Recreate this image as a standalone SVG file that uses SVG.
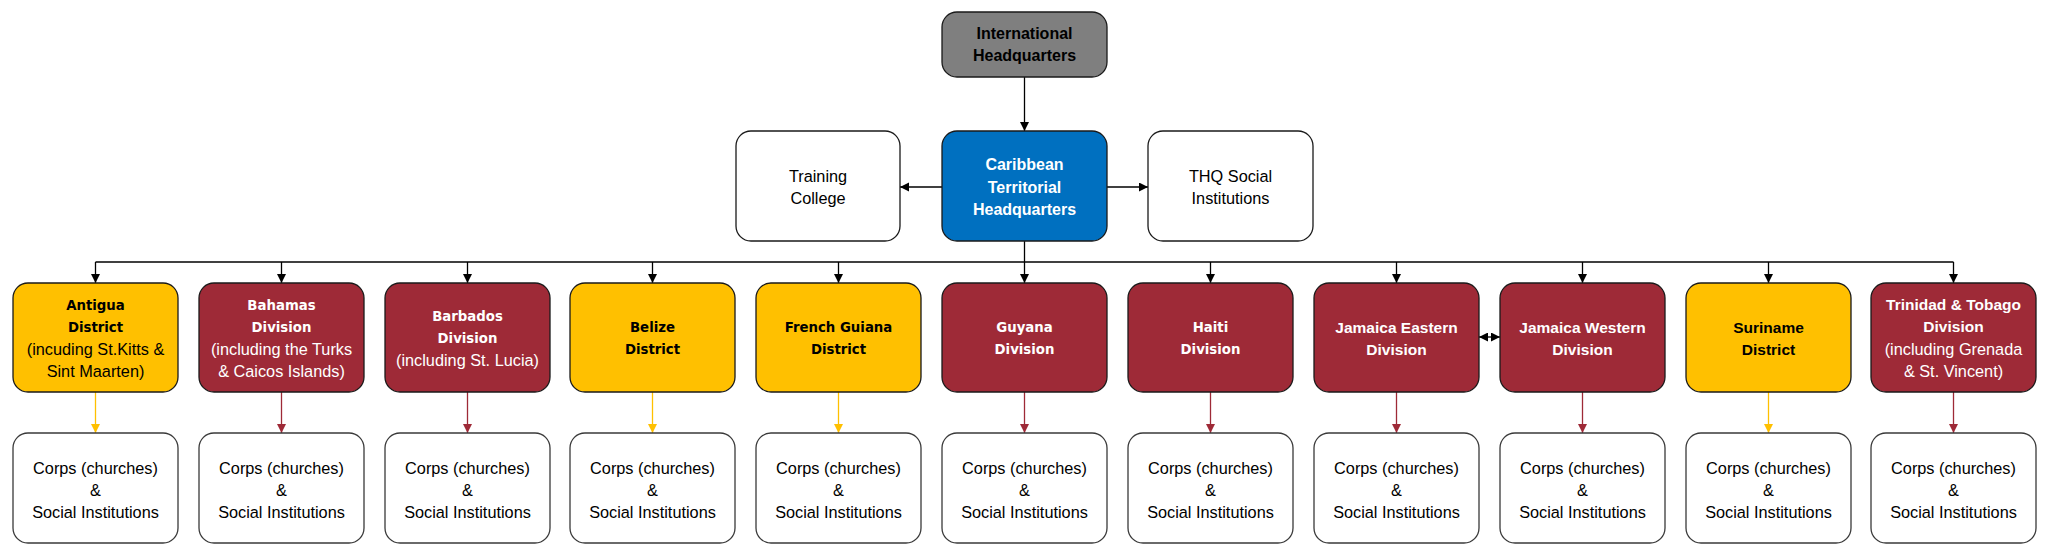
<svg xmlns="http://www.w3.org/2000/svg" width="2052" height="558" viewBox="0 0 2052 558">
<style>
text{font-family:"Liberation Sans",Arial,sans-serif;font-size:16.3px;text-anchor:middle}
.b{font-weight:bold;font-size:15.5px}
.v{font-family:"DejaVu Sans",Verdana,sans-serif;font-weight:bold;font-size:13.3px}
.w{fill:#fff}
.k{fill:#000}
.div{fill:#9e2a37;stroke:#1a1a1a;stroke-width:1.3}
.dis{fill:#ffc000;stroke:#1a1a1a;stroke-width:1.3}
.corps{fill:#fff;stroke:#3a3a3a;stroke-width:1.3}
.wh{fill:#fff;stroke:#1a1a1a;stroke-width:1.3}
.c{fill:none;stroke:#000;stroke-width:1.3}
.cr{fill:none;stroke:#9e2a37;stroke-width:1.3}
.cy{fill:none;stroke:#ffc000;stroke-width:1.3}
</style>
<defs>
<marker id="a" markerUnits="userSpaceOnUse" markerWidth="10" markerHeight="10" refX="9" refY="4.5" orient="auto"><path d="M0,0 L9,4.5 L0,9 z" fill="#000"/></marker>
<marker id="as" markerUnits="userSpaceOnUse" markerWidth="10" markerHeight="10" refX="0" refY="4.5" orient="auto"><path d="M9,0 L0,4.5 L9,9 z" fill="#000"/></marker>
<marker id="ar" markerUnits="userSpaceOnUse" markerWidth="10" markerHeight="10" refX="9" refY="4.5" orient="auto"><path d="M0,0 L9,4.5 L0,9 z" fill="#9e2a37"/></marker>
<marker id="ay" markerUnits="userSpaceOnUse" markerWidth="10" markerHeight="10" refX="9" refY="4.5" orient="auto"><path d="M0,0 L9,4.5 L0,9 z" fill="#ffc000"/></marker>
</defs>

<g id="connectors">
<path class="c" d="M1024.5,77 V131" marker-end="url(#a)"/>
<path class="c" d="M942,187 H900" marker-end="url(#a)"/>
<path class="c" d="M1107,187 H1148" marker-end="url(#a)"/>
<path class="c" d="M1024.5,241 V262"/>
<path class="c" d="M95.5,262 H1953.5"/>
<path class="c" d="M95.5,262 V283" marker-end="url(#a)"/>
<path class="c" d="M281.5,262 V283" marker-end="url(#a)"/>
<path class="c" d="M467.5,262 V283" marker-end="url(#a)"/>
<path class="c" d="M652.5,262 V283" marker-end="url(#a)"/>
<path class="c" d="M838.5,262 V283" marker-end="url(#a)"/>
<path class="c" d="M1024.5,262 V283" marker-end="url(#a)"/>
<path class="c" d="M1210.5,262 V283" marker-end="url(#a)"/>
<path class="c" d="M1396.5,262 V283" marker-end="url(#a)"/>
<path class="c" d="M1582.5,262 V283" marker-end="url(#a)"/>
<path class="c" d="M1768.5,262 V283" marker-end="url(#a)"/>
<path class="c" d="M1953.5,262 V283" marker-end="url(#a)"/>
<path class="c" d="M1479,337 H1500" marker-start="url(#as)" marker-end="url(#a)"/>
<path class="cy" d="M95.5,392 V433" marker-end="url(#ay)"/>
<path class="cr" d="M281.5,392 V433" marker-end="url(#ar)"/>
<path class="cr" d="M467.5,392 V433" marker-end="url(#ar)"/>
<path class="cy" d="M652.5,392 V433" marker-end="url(#ay)"/>
<path class="cy" d="M838.5,392 V433" marker-end="url(#ay)"/>
<path class="cr" d="M1024.5,392 V433" marker-end="url(#ar)"/>
<path class="cr" d="M1210.5,392 V433" marker-end="url(#ar)"/>
<path class="cr" d="M1396.5,392 V433" marker-end="url(#ar)"/>
<path class="cr" d="M1582.5,392 V433" marker-end="url(#ar)"/>
<path class="cy" d="M1768.5,392 V433" marker-end="url(#ay)"/>
<path class="cr" d="M1953.5,392 V433" marker-end="url(#ar)"/>
</g>

<g id="ihq">
<rect x="942" y="12" width="165" height="65" rx="15" fill="#7f7f7f" stroke="#1a1a1a" stroke-width="1.3"/>
<text class="b k" x="1024.5" y="39" style="font-size:16px">International</text>
<text class="b k" x="1024.5" y="61" style="font-size:16px">Headquarters</text>
</g>
<g id="cthq">
<rect x="942" y="131" width="165" height="110" rx="15" fill="#0070c0" stroke="#1a1a1a" stroke-width="1.3"/>
<text class="b w" x="1024.5" y="170" style="font-size:16px">Caribbean</text>
<text class="b w" x="1024.5" y="192.5" style="font-size:16px">Territorial</text>
<text class="b w" x="1024.5" y="215" style="font-size:16px">Headquarters</text>
</g>
<g id="training">
<rect class="wh" x="736" y="131" width="164" height="110" rx="15"/>
<text x="818" y="181.5">Training</text>
<text x="818" y="203.5">College</text>
</g>
<g id="thqsocial">
<rect class="wh" x="1148" y="131" width="165" height="110" rx="15"/>
<text x="1230.5" y="181.5">THQ Social</text>
<text x="1230.5" y="203.5">Institutions</text>
</g>

<g id="antigua">
<rect class="dis" x="13" y="283" width="165" height="109" rx="15"/>
<text class="v k" x="95.5" y="310">Antigua</text>
<text class="v k" x="95.5" y="332">District</text>
<text class="k" x="95.5" y="354.5">(incuding St.Kitts &amp;</text>
<text class="k" x="95.5" y="376.5">Sint Maarten)</text>
</g>
<g id="bahamas">
<rect class="div" x="199" y="283" width="165" height="109" rx="15"/>
<text class="v w" x="281.5" y="310">Bahamas</text>
<text class="v w" x="281.5" y="332">Division</text>
<text class="w" x="281.5" y="354.5">(including the Turks</text>
<text class="w" x="281.5" y="376.5">&amp; Caicos Islands)</text>
</g>
<g id="barbados">
<rect class="div" x="385" y="283" width="165" height="109" rx="15"/>
<text class="v w" x="467.5" y="321">Barbados</text>
<text class="v w" x="467.5" y="343">Division</text>
<text class="w" x="467.5" y="365.5">(including St. Lucia)</text>
</g>
<g id="belize">
<rect class="dis" x="570" y="283" width="165" height="109" rx="15"/>
<text class="v k" x="652.5" y="332">Belize</text>
<text class="v k" x="652.5" y="354">District</text>
</g>
<g id="frenchguiana">
<rect class="dis" x="756" y="283" width="165" height="109" rx="15"/>
<text class="v k" x="838.5" y="332">French Guiana</text>
<text class="v k" x="838.5" y="354">District</text>
</g>
<g id="guyana">
<rect class="div" x="942" y="283" width="165" height="109" rx="15"/>
<text class="v w" x="1024.5" y="332">Guyana</text>
<text class="v w" x="1024.5" y="354">Division</text>
</g>
<g id="haiti">
<rect class="div" x="1128" y="283" width="165" height="109" rx="15"/>
<text class="v w" x="1210.5" y="332">Haiti</text>
<text class="v w" x="1210.5" y="354">Division</text>
</g>
<g id="jamaicaeastern">
<rect class="div" x="1314" y="283" width="165" height="109" rx="15"/>
<text class="b w" x="1396.5" y="332.5">Jamaica Eastern</text>
<text class="b w" x="1396.5" y="354.5">Division</text>
</g>
<g id="jamaicawestern">
<rect class="div" x="1500" y="283" width="165" height="109" rx="15"/>
<text class="b w" x="1582.5" y="332.5">Jamaica Western</text>
<text class="b w" x="1582.5" y="354.5">Division</text>
</g>
<g id="suriname">
<rect class="dis" x="1686" y="283" width="165" height="109" rx="15"/>
<text class="b k" x="1768.5" y="332.5">Suriname</text>
<text class="b k" x="1768.5" y="354.5">District</text>
</g>
<g id="trinidad">
<rect class="div" x="1871" y="283" width="165" height="109" rx="15"/>
<text class="b w" x="1953.5" y="309.5">Trinidad &amp; Tobago</text>
<text class="b w" x="1953.5" y="331.5">Division</text>
<text class="w" x="1953.5" y="354.5">(including Grenada</text>
<text class="w" x="1953.5" y="376.5">&amp; St. Vincent)</text>
</g>

<g id="corps-antigua"><rect class="corps" x="13" y="433" width="165" height="110" rx="15"/><text x="95.5" y="473.5">Corps (churches)</text><text x="95.5" y="495.5">&amp;</text><text x="95.5" y="517.5">Social Institutions</text></g>
<g id="corps-bahamas"><rect class="corps" x="199" y="433" width="165" height="110" rx="15"/><text x="281.5" y="473.5">Corps (churches)</text><text x="281.5" y="495.5">&amp;</text><text x="281.5" y="517.5">Social Institutions</text></g>
<g id="corps-barbados"><rect class="corps" x="385" y="433" width="165" height="110" rx="15"/><text x="467.5" y="473.5">Corps (churches)</text><text x="467.5" y="495.5">&amp;</text><text x="467.5" y="517.5">Social Institutions</text></g>
<g id="corps-belize"><rect class="corps" x="570" y="433" width="165" height="110" rx="15"/><text x="652.5" y="473.5">Corps (churches)</text><text x="652.5" y="495.5">&amp;</text><text x="652.5" y="517.5">Social Institutions</text></g>
<g id="corps-frenchguiana"><rect class="corps" x="756" y="433" width="165" height="110" rx="15"/><text x="838.5" y="473.5">Corps (churches)</text><text x="838.5" y="495.5">&amp;</text><text x="838.5" y="517.5">Social Institutions</text></g>
<g id="corps-guyana"><rect class="corps" x="942" y="433" width="165" height="110" rx="15"/><text x="1024.5" y="473.5">Corps (churches)</text><text x="1024.5" y="495.5">&amp;</text><text x="1024.5" y="517.5">Social Institutions</text></g>
<g id="corps-haiti"><rect class="corps" x="1128" y="433" width="165" height="110" rx="15"/><text x="1210.5" y="473.5">Corps (churches)</text><text x="1210.5" y="495.5">&amp;</text><text x="1210.5" y="517.5">Social Institutions</text></g>
<g id="corps-jamaicaeastern"><rect class="corps" x="1314" y="433" width="165" height="110" rx="15"/><text x="1396.5" y="473.5">Corps (churches)</text><text x="1396.5" y="495.5">&amp;</text><text x="1396.5" y="517.5">Social Institutions</text></g>
<g id="corps-jamaicawestern"><rect class="corps" x="1500" y="433" width="165" height="110" rx="15"/><text x="1582.5" y="473.5">Corps (churches)</text><text x="1582.5" y="495.5">&amp;</text><text x="1582.5" y="517.5">Social Institutions</text></g>
<g id="corps-suriname"><rect class="corps" x="1686" y="433" width="165" height="110" rx="15"/><text x="1768.5" y="473.5">Corps (churches)</text><text x="1768.5" y="495.5">&amp;</text><text x="1768.5" y="517.5">Social Institutions</text></g>
<g id="corps-trinidad"><rect class="corps" x="1871" y="433" width="165" height="110" rx="15"/><text x="1953.5" y="473.5">Corps (churches)</text><text x="1953.5" y="495.5">&amp;</text><text x="1953.5" y="517.5">Social Institutions</text></g>
</svg>
